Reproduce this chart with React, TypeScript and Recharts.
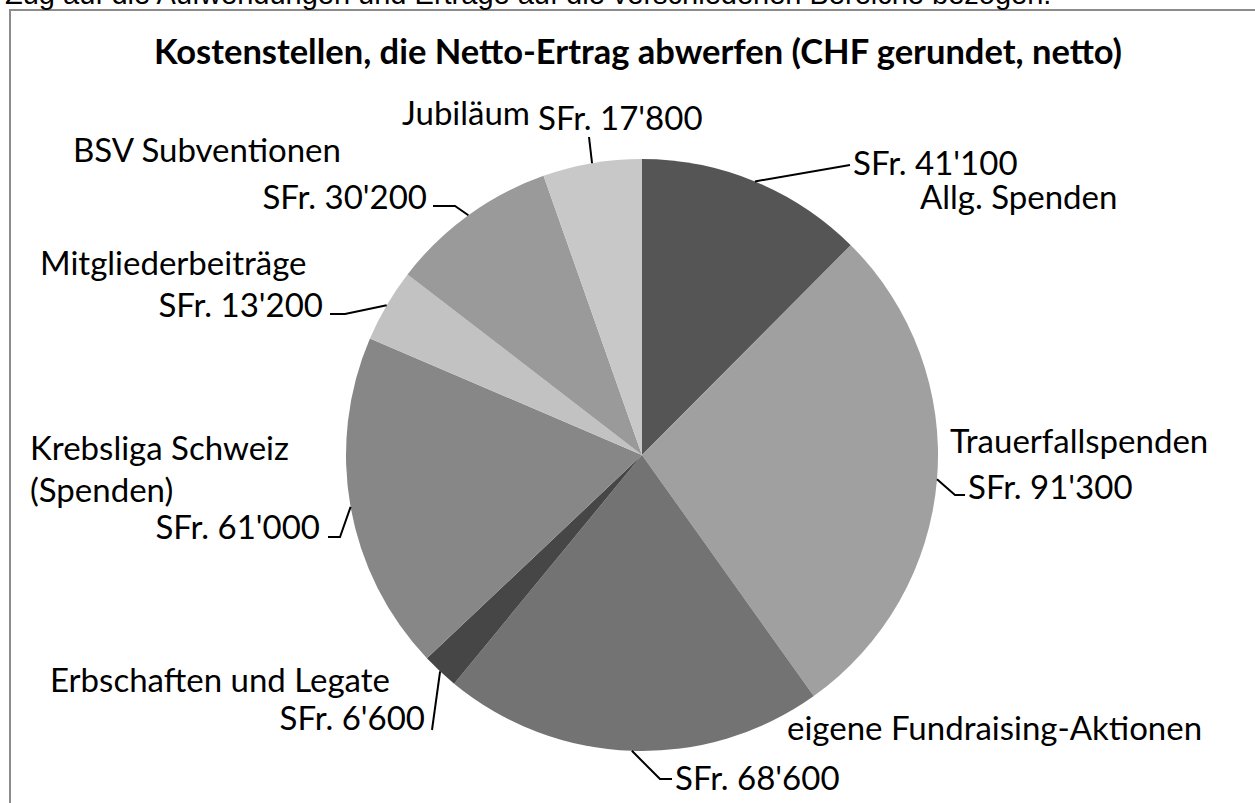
import React from 'react';
import { PieChart, Pie, Cell } from 'recharts';

const categories = [
  'Allg. Spenden',
  'Trauerfallspenden',
  'eigene Fundraising-Aktionen',
  'Erbschaften und Legate',
  'Krebsliga Schweiz (Spenden)',
  'Mitgliederbeiträge',
  'BSV Subventionen',
  'Jubiläum',
];
const amounts = [41100, 91300, 68600, 6600, 61000, 13200, 30200, 17800];
const valueLabels = ["SFr. 41'100", "SFr. 91'300", "SFr. 68'600", "SFr. 6'600", "SFr. 61'000", "SFr. 13'200", "SFr. 30'200", "SFr. 17'800"];
const nameLines = [
  ['Allg. Spenden'],
  ['Trauerfallspenden'],
  ['eigene Fundraising-Aktionen'],
  ['Erbschaften und Legate'],
  ['Krebsliga Schweiz', '(Spenden)'],
  ['Mitgliederbeiträge'],
  ['BSV Subventionen'],
  ['Jubiläum'],
];

const colors = ['#555555', '#a0a0a0', '#737373', '#464646', '#878787', '#c2c2c2', '#9a9a9a', '#c8c8c8'];

const chartData = categories.map((name, i) => ({ name, value: amounts[i] }));

// hand placed label layout (Excel style), one entry per slice
type Txt = { x: number; y: number; anchor: 'start' | 'end' };
const labelLayout: { line: [number, number][]; names: Txt[]; value: Txt }[] = [
  { line: [[850, 165]], names: [{ x: 920, y: 209, anchor: 'start' }], value: { x: 853, y: 175, anchor: 'start' } },
  { line: [[955, 495], [965, 495]], names: [{ x: 950, y: 453, anchor: 'start' }], value: { x: 968, y: 499, anchor: 'start' } },
  { line: [[660, 779], [672, 779]], names: [{ x: 787, y: 740, anchor: 'start' }], value: { x: 675, y: 790, anchor: 'start' } },
  { line: [[432, 730]], names: [{ x: 50, y: 692, anchor: 'start' }], value: { x: 425, y: 730, anchor: 'end' } },
  { line: [[340, 537], [328, 537]], names: [{ x: 30, y: 460, anchor: 'start' }, { x: 30, y: 502, anchor: 'start' }], value: { x: 320, y: 539, anchor: 'end' } },
  { line: [[345, 314], [330, 314]], names: [{ x: 40, y: 275, anchor: 'start' }], value: { x: 323, y: 317, anchor: 'end' } },
  { line: [[455, 206], [433, 206]], names: [{ x: 73, y: 162, anchor: 'start' }], value: { x: 427, y: 209, anchor: 'end' } },
  { line: [[589, 137]], names: [{ x: 402, y: 125, anchor: 'start' }], value: { x: 538, y: 130, anchor: 'start' } },
];

const RADIAN = Math.PI / 180;
const FONT = 'Lato, "Open Sans", sans-serif';

const renderLabel = (props: any) => {
  const { cx, cy, midAngle, outerRadius, index } = props;
  const lay = labelLayout[index];
  const sx = cx + outerRadius * Math.cos(-midAngle * RADIAN);
  const sy = cy + outerRadius * Math.sin(-midAngle * RADIAN);
  const pts = [[sx, sy], ...lay.line].map((p) => p.join(',')).join(' ');
  return (
    <g key={`lbl-${index}`}>
      <polyline points={pts} fill="none" stroke="#000" strokeWidth={2} />
      {nameLines[index].map((t, j) => (
        <text key={j} x={lay.names[j].x} y={lay.names[j].y} textAnchor={lay.names[j].anchor} fontSize={33} fontFamily={FONT} fill="#000">
          {t}
        </text>
      ))}
      <text x={lay.value.x} y={lay.value.y} textAnchor={lay.value.anchor} fontSize={33} fontFamily={FONT} fill="#000">
        {valueLabels[index]}
      </text>
    </g>
  );
};

const App: React.FC = () => {
  return (
    <div style={{ position: 'fixed', left: 0, top: 0, width: 1255, height: 803, overflow: 'hidden', background: '#fff' }}>
      <div style={{ position: 'absolute', left: 9, top: 9, width: 1300, height: 900, border: '2px solid #8c8c8c' }} />
      <svg width={1255} height={803} style={{ position: 'absolute', left: 0, top: 0 }}>
        <text x={5} y={4} fontSize={29} fontFamily='"Liberation Sans", Arial, sans-serif' fill="#000">
          Zug auf die Aufwendungen und Erträge auf die verschiedenen Bereiche bezogen.
        </text>
        <text x={638} y={64} textAnchor="middle" fontSize={34.5} fontWeight="bold" fontFamily={FONT} fill="#000">
          Kostenstellen, die Netto-Ertrag abwerfen (CHF gerundet, netto)
        </text>
      </svg>
      <div style={{ position: 'absolute', left: 0, top: 0 }}>
        <PieChart width={1255} height={803}>
          <Pie
            data={chartData}
            dataKey="value"
            nameKey="name"
            cx={637}
            cy={450}
            outerRadius={296}
            startAngle={90}
            endAngle={-270}
            stroke="none"
            label={renderLabel}
            labelLine={false}
            isAnimationActive={false}
          >
            {chartData.map((_, i) => (
              <Cell key={i} fill={colors[i]} />
            ))}
          </Pie>
        </PieChart>
      </div>
    </div>
  );
};

export default App;
